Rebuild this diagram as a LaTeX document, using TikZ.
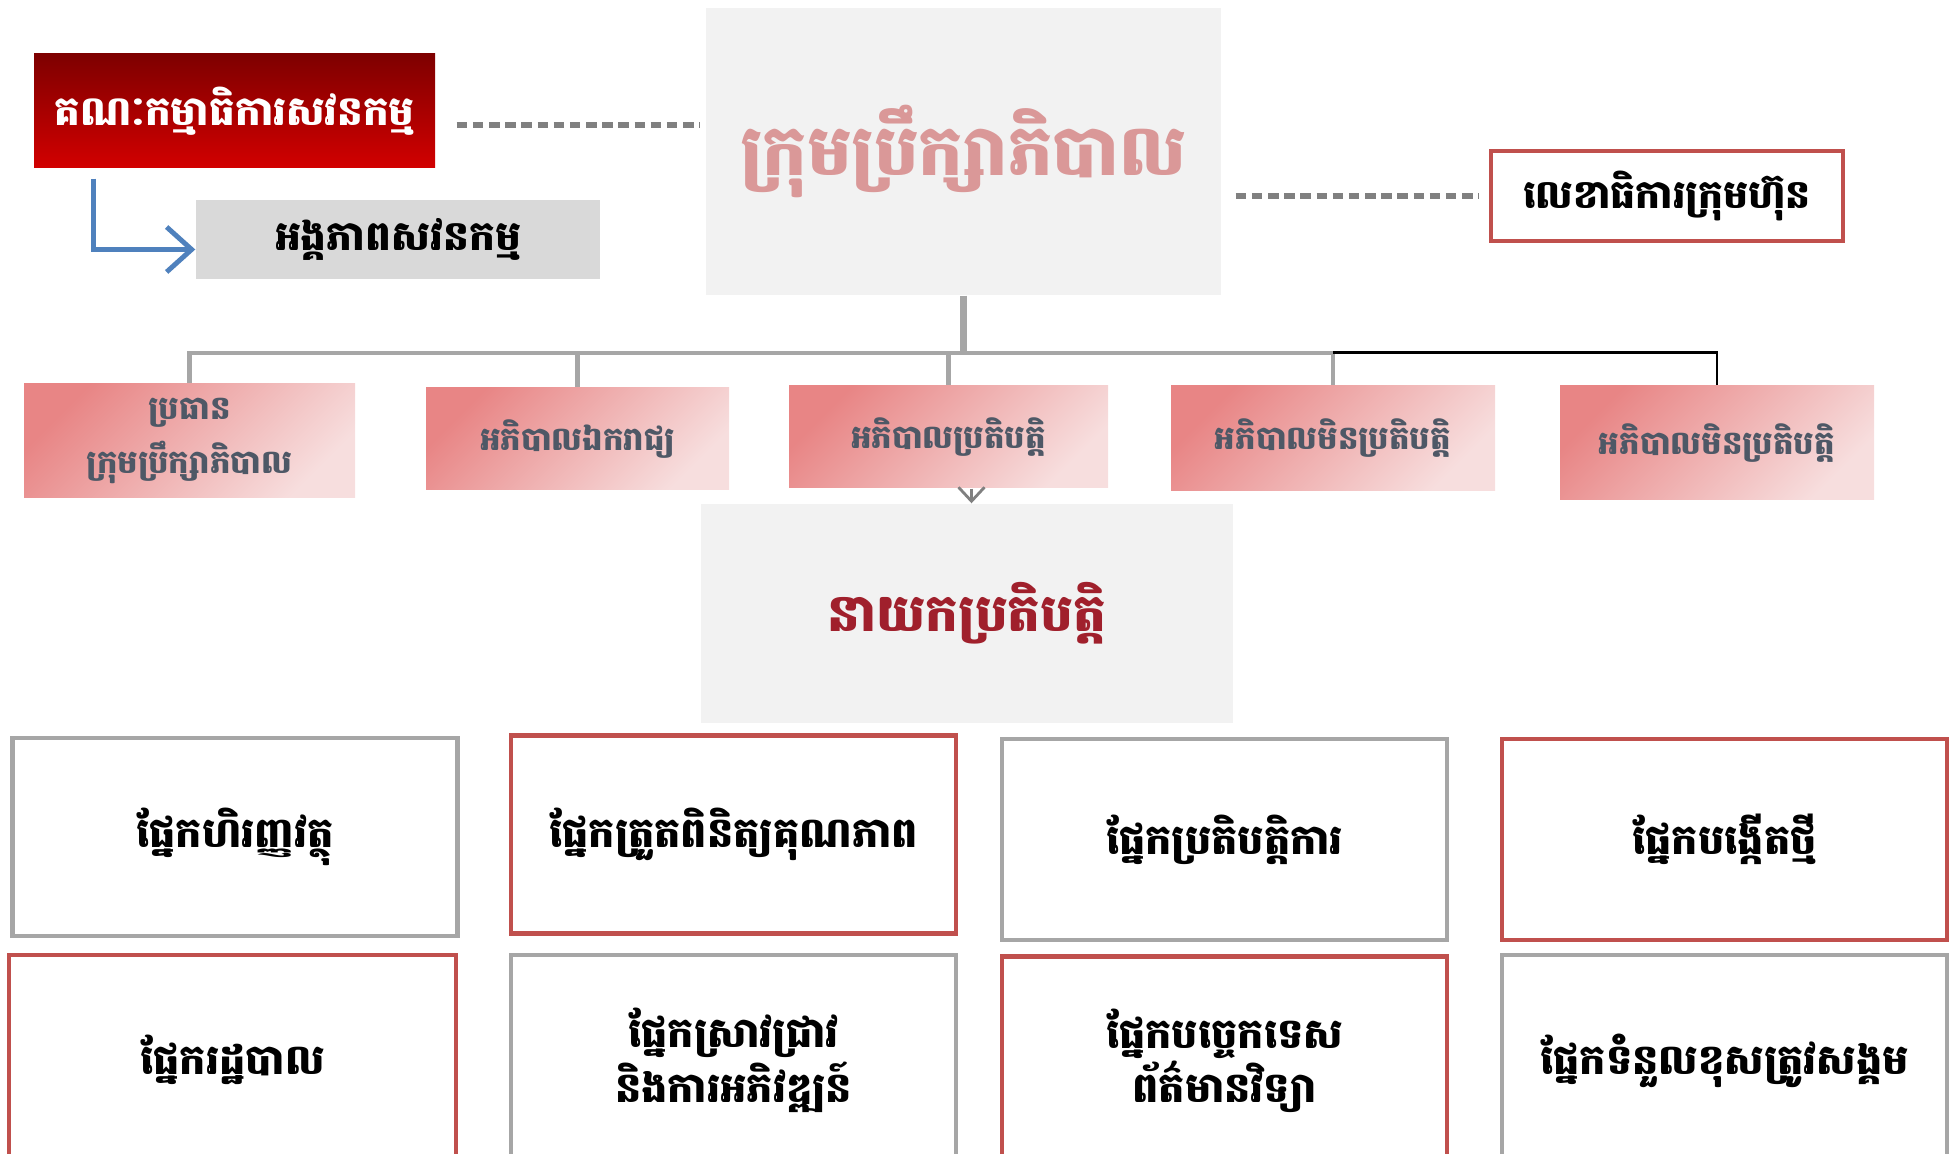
\documentclass[tikz,border=0pt]{standalone}
\usepackage{fontspec}
\newfontfamily\khmerfont[Script=Khmer]{Battambang}
\usetikzlibrary{arrows.meta}

\definecolor{boardtext}{HTML}{DA9898}
\definecolor{boardfill}{HTML}{F2F2F2}
\definecolor{redtop}{HTML}{7E0000}
\definecolor{redbot}{HTML}{D20000}
\definecolor{auditfill}{HTML}{D9D9D9}
\definecolor{boxred}{HTML}{C0504D}
\definecolor{boxgray}{HTML}{A6A6A6}
\definecolor{pinkA}{HTML}{E88585}
\definecolor{pinkB}{HTML}{F7DEDE}
\definecolor{silver}{HTML}{4E5866}
\definecolor{execred}{HTML}{A0202C}
\definecolor{arrowblue}{HTML}{4F81BD}

\begin{document}
\begin{tikzpicture}[x=0.1mm,y=-0.1mm,
    every node/.style={font=\khmerfont\bfseries, align=center, inner sep=0pt},
    pinkbox/.style={top color=pinkA, bottom color=pinkB, shading angle=45,
        text=silver, font=\khmerfont\bfseries\fontsize{9.2}{15.4}\selectfont},
    unitbox/.style={draw=#1, line width=1.2pt, fill=white, minimum width=44.5mm,
        minimum height=19.8mm, font=\khmerfont\bfseries\fontsize{11.8}{15.5}\selectfont},
    treeline/.style={draw=boxgray, line width=1.2pt},
    dashline/.style={draw=gray, line width=1.5pt, dash pattern=on 3pt off 1.6pt}]
    \useasboundingbox (0,0) rectangle (1960,1154);

    \node[minimum width=40.1mm, minimum height=11.4mm, top color=redtop, bottom color=redbot,
        text=white, font=\khmerfont\bfseries\fontsize{11.5}{14}\selectfont] (audcom) at (234.5,111) {គណៈកម្មាធិការសវនកម្ម};
    \node[minimum width=40.4mm, minimum height=7.9mm, fill=auditfill,
        font=\khmerfont\bfseries\fontsize{11.6}{14}\selectfont] (audunit) at (398,239.5) {អង្គភាពសវនកម្ម};
    \node[minimum width=51.5mm, minimum height=28.7mm, fill=boardfill, text=boardtext,
        font=\khmerfont\bfseries\fontsize{20}{24}\selectfont] (board) at (963.5,151.5) {ក្រុមប្រឹក្សាភិបាល};
    \node[draw=boxred, line width=1.2pt, minimum width=35.2mm, minimum height=9mm,
        font=\khmerfont\bfseries\fontsize{11.2}{14}\selectfont] (secr) at (1667,196) {លេខាធិការក្រុមហ៊ុន};

    \draw[-{Straight Barb[length=2.5mm,width=4.5mm]}, draw=arrowblue, line width=1.4pt]
        ([xshift=6mm,yshift=-1mm]audcom.south west) |- ([yshift=-1mm]audunit.west);
    \draw[dashline] ([xshift=2.1mm,yshift=-1.4mm]audcom.east) -- ([xshift=-0.6mm,yshift=-1.4mm]audcom.east -| board.west);
    \draw[dashline] ([xshift=1.4mm]board.east |- secr.west) -- ([xshift=-1mm]secr.west);

    \node[pinkbox, minimum width=33.1mm, minimum height=11.4mm] (chair) at (189.5,441) {ប្រធាន\\ក្រុមប្រឹក្សាភិបាល};
    \node[pinkbox, minimum width=30.3mm, minimum height=10.2mm] (indep) at (577.5,439) {អភិបាលឯករាជ្យ};
    \node[pinkbox, minimum width=31.9mm, minimum height=10.2mm] (execdir) at (948.5,437) {អភិបាលប្រតិបត្តិ};
    \node[pinkbox, minimum width=32.4mm, minimum height=10.5mm] (nonexA) at (1333,438.5) {អភិបាលមិនប្រតិបត្តិ};
    \node[pinkbox, minimum width=31.4mm, minimum height=11.4mm] (nonexB) at (1717,443) {អភិបាលមិនប្រតិបត្តិ};

    \draw[treeline, line width=2pt] (board.south) -- ++(0,57) coordinate (hub);
    \foreach \d in {chair,indep,execdir,nonexA}
    {
        \draw[treeline] (hub) -| (\d.north);
    }
    \draw[black, line width=0.8pt] (hub -| nonexA.north) -| (nonexB.north);

    \node[minimum width=53.2mm, minimum height=21.9mm, fill=boardfill, text=execred,
        font=\khmerfont\bfseries\fontsize{14.7}{18}\selectfont] (ceo) at (967,613.5) {នាយកប្រតិបត្តិ};
    \draw[-{Straight Barb[length=1.4mm,width=2.6mm]}, draw=gray, line width=0.8pt]
        ([xshift=2.3mm]execdir.south) -- ([xshift=2.3mm]execdir.south |- ceo.north);

    \node[unitbox=boxgray] (finance) at (235,837) {ផ្នែកហិរញ្ញវត្ថុ};
    \node[unitbox=boxred] (quality) at (733.5,834.5) {ផ្នែកត្រួតពិនិត្យគុណភាព};
    \node[unitbox=boxgray, minimum height=20.1mm] (operat) at (1224.5,839.5) {ផ្នែកប្រតិបត្តិការ};
    \node[unitbox=boxred, minimum height=20.1mm] (innov) at (1724.5,839.5) {ផ្នែកបង្កើតថ្មី};

    \node[unitbox=boxred, minimum width=44.7mm, minimum height=21mm] (admin) at (232.5,1060) {ផ្នែករដ្ឋបាល};
    \node[unitbox=boxgray, minimum height=21.1mm] (research) at (733.5,1060.5) {ផ្នែកស្រាវជ្រាវ\\និងការអភិវឌ្ឍន៍};
    \node[unitbox=boxred, minimum height=20.9mm] (itech) at (1224.5,1061) {ផ្នែកបច្ចេកទេស\\ព័ត៌មានវិទ្យា};
    \node[unitbox=boxgray, minimum height=21.1mm] (social) at (1724.5,1060.5) {ផ្នែកទំនួលខុសត្រូវសង្គម};
\end{tikzpicture}
\end{document}
